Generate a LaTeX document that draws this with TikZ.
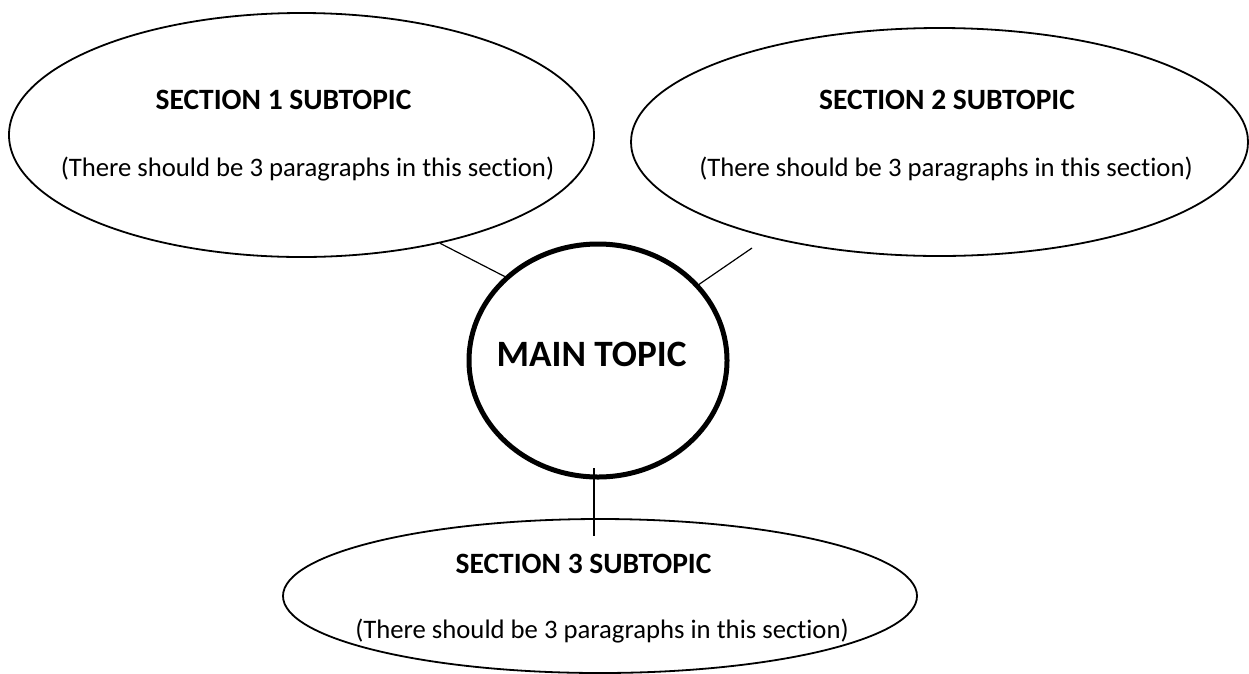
\documentclass[tikz,border=0pt]{standalone}
\usepackage{fontspec}
\setmainfont{Carlito}[Ligatures=NoCommon]
\usetikzlibrary{shapes.geometric}
\begin{document}
\begin{tikzpicture}[x=1pt,y=-1pt,
  subell/.style={draw=black,line width=1.8pt,ellipse,inner sep=0pt},
  mainell/.style={draw=black,line width=5pt,ellipse,inner sep=0pt},
  ttl/.style={font=\fontsize{29.5}{33}\selectfont\bfseries,inner sep=0pt},
  txt/.style={font=\fontsize{26.7}{30}\selectfont,inner sep=0pt},
  mtxt/.style={font=\fontsize{37.2}{41}\selectfont\bfseries,inner sep=0pt},
  conn/.style={draw=black,line width=1.2pt}]
\useasboundingbox (0,0) rectangle (1249,673);
\fill[white] (0,0) rectangle (1249,673);
% ellipses
\node[subell,minimum width=585pt,minimum height=244pt] (e1) at (301.5,135) {};
\node[subell,minimum width=617pt,minimum height=228pt] (e2) at (939.5,142) {};
\node[subell,minimum width=634pt,minimum height=154pt] (e3) at (600,596) {};
\node[mainell,minimum width=258pt,minimum height=233pt] (m) at (598,360.5) {};
% texts
\node[ttl] (t1) at (283.5,100) {SECTION 1 SUBTOPIC};
\node[txt] (p1) at (307.5,169) {(There should be 3 paragraphs in this section)};
\node[ttl] (t2) at (947,100) {SECTION 2 SUBTOPIC};
\node[txt] (p2) at (946,169) {(There should be 3 paragraphs in this section)};
\node[ttl] (t3) at (583.5,564) {SECTION 3 SUBTOPIC};
\node[txt] (p3) at (602,631) {(There should be 3 paragraphs in this section)};
\node[mtxt] (mt) at (591.5,354) {MAIN TOPIC};
% connectors
\coordinate (c2a) at (752,248);
\coordinate (c3a) at (594,468);
\coordinate (c3b) at (594,536);
\draw[conn] (e1.-38.4) -- (m.138.6);
\draw[conn,shorten >=-4pt] (c2a) -- (m.37);
\draw[conn] (c3a) -- (c3b);
\end{tikzpicture}
\end{document}
